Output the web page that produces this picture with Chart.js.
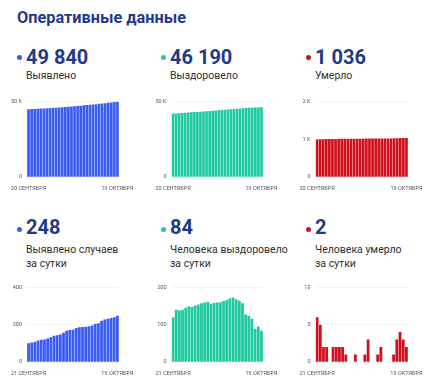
<!DOCTYPE html>
<html>
<head>
<meta charset="utf-8">
<script src="https://cdn.jsdelivr.net/npm/chart.js@4/dist/chart.umd.min.js"></script>
<style>
  body { margin: 0; width: 430px; height: 388px; background: #fff; font-family: Roboto, sans-serif; position: relative; overflow: hidden; }
  .abs { position: absolute; white-space: nowrap; }
  .title { left: 17px; top: 10px; font-size: 16.3px; line-height: 16px; font-weight: bold; color: #1f3b86; }
  .num { font-size: 20px; line-height: 20px; font-weight: bold; color: #1f3b86; }
  .lbl { font-size: 10.5px; line-height: 14px; color: #2e2e2e; }
  .dot { width: 5px; height: 5px; border-radius: 50%; }
  canvas { position: absolute; }
</style>
</head>
<body>
<div class="abs title">Оперативные данные</div>

<div class="abs dot" style="left:16.5px;top:55px;background:#3b5cf2"></div>
<div class="abs num" style="left:26px;top:46.5px">49 840</div>
<div class="abs lbl" style="left:26px;top:69px">Выявлено</div>

<div class="abs dot" style="left:161px;top:55px;background:#1fcaa2"></div>
<div class="abs num" style="left:170px;top:46.5px">46 190</div>
<div class="abs lbl" style="left:170px;top:69px">Выздоровело</div>

<div class="abs dot" style="left:305.5px;top:55px;background:#d0101d"></div>
<div class="abs num" style="left:315px;top:46.5px">1 036</div>
<div class="abs lbl" style="left:315px;top:69px">Умерло</div>

<div class="abs dot" style="left:16.5px;top:227px;background:#3b5cf2"></div>
<div class="abs num" style="left:26px;top:217px">248</div>
<div class="abs lbl" style="left:26px;top:242.5px">Выявлено случаев<br>за сутки</div>

<div class="abs dot" style="left:161px;top:227px;background:#1fcaa2"></div>
<div class="abs num" style="left:170px;top:217px">84</div>
<div class="abs lbl" style="left:170px;top:242.5px">Человека выздоровело<br>за сутки</div>

<div class="abs dot" style="left:305.5px;top:227px;background:#d0101d"></div>
<div class="abs num" style="left:315px;top:217px">2</div>
<div class="abs lbl" style="left:315px;top:242.5px">Человека умерло<br>за сутки</div>

<canvas id="c1" style="left:0;top:90px" width="145" height="101"></canvas>
<canvas id="c2" style="left:145px;top:90px" width="145" height="101"></canvas>
<canvas id="c3" style="left:290px;top:90px" width="140" height="101"></canvas>
<canvas id="c4" style="left:0;top:276px" width="145" height="100"></canvas>
<canvas id="c5" style="left:145px;top:276px" width="145" height="100"></canvas>
<canvas id="c6" style="left:290px;top:276px" width="140" height="100"></canvas>

<script>
// даты: накопленные итоги (20.09 - 19.10) и суточные значения (21.09 - 19.10)
const datesTotal = ['20 СЕНТЯБРЯ', '21 СЕНТЯБРЯ', '22 СЕНТЯБРЯ', '23 СЕНТЯБРЯ', '24 СЕНТЯБРЯ', '25 СЕНТЯБРЯ',
  '26 СЕНТЯБРЯ', '27 СЕНТЯБРЯ', '28 СЕНТЯБРЯ', '29 СЕНТЯБРЯ', '30 СЕНТЯБРЯ',
  '1 ОКТЯБРЯ', '2 ОКТЯБРЯ', '3 ОКТЯБРЯ', '4 ОКТЯБРЯ', '5 ОКТЯБРЯ', '6 ОКТЯБРЯ', '7 ОКТЯБРЯ',
  '8 ОКТЯБРЯ', '9 ОКТЯБРЯ', '10 ОКТЯБРЯ', '11 ОКТЯБРЯ', '12 ОКТЯБРЯ', '13 ОКТЯБРЯ', '14 ОКТЯБРЯ',
  '15 ОКТЯБРЯ', '16 ОКТЯБРЯ', '17 ОКТЯБРЯ', '18 ОКТЯБРЯ', '19 ОКТЯБРЯ'];
const datesDaily = ['21 СЕНТЯБРЯ', '22 СЕНТЯБРЯ', '23 СЕНТЯБРЯ', '24 СЕНТЯБРЯ', '25 СЕНТЯБРЯ',
  '26 СЕНТЯБРЯ', '27 СЕНТЯБРЯ', '28 СЕНТЯБРЯ', '29 СЕНТЯБРЯ', '30 СЕНТЯБРЯ',
  '1 ОКТЯБРЯ', '2 ОКТЯБРЯ', '3 ОКТЯБРЯ', '4 ОКТЯБРЯ', '5 ОКТЯБРЯ', '6 ОКТЯБРЯ', '7 ОКТЯБРЯ',
  '8 ОКТЯБРЯ', '9 ОКТЯБРЯ', '10 ОКТЯБРЯ', '11 ОКТЯБРЯ', '12 ОКТЯБРЯ', '13 ОКТЯБРЯ', '14 ОКТЯБРЯ',
  '15 ОКТЯБРЯ', '16 ОКТЯБРЯ', '17 ОКТЯБРЯ', '18 ОКТЯБРЯ', '19 ОКТЯБРЯ'];

const casesTotal = [44870, 44971, 45075, 45183, 45298, 45417, 45537, 45663, 45796, 45936,
  46079, 46226, 46382, 46550, 46722, 46895, 47077, 47263, 47450, 47639,
  47830, 48026, 48230, 48437, 48658, 48885, 49117, 49352, 49592, 49840];
const recoveredTotal = [41999, 42119, 42259, 42397, 42537, 42682, 42831, 42978, 43129, 43283,
  43440, 43599, 43760, 43916, 44074, 44233, 44393, 44556, 44722, 44893,
  45066, 45234, 45398, 45555, 45682, 45806, 45922, 46011, 46106, 46190];
const deathsTotal = [991, 997, 1002, 1004, 1006, 1006, 1008, 1010, 1012, 1014,
  1015, 1015, 1015, 1016, 1016, 1016, 1017, 1020, 1020, 1020,
  1021, 1023, 1023, 1023, 1023, 1024, 1027, 1031, 1034, 1036];

const casesDaily = [101, 104, 108, 115, 119, 120, 126, 133, 140, 143, 147, 156, 168, 172, 173,
  182, 186, 187, 189, 191, 196, 204, 207, 221, 227, 232, 235, 240, 248];
const recoveredDaily = [120, 140, 138, 140, 145, 149, 147, 151, 154, 157, 159, 161, 156, 158, 159,
  160, 163, 166, 171, 173, 168, 164, 157, 127, 124, 116, 89, 95, 84];
const deathsDaily = [6, 5, 2, 2, 0, 2, 2, 2, 2, 1, 0, 0, 1, 0, 0, 1, 3, 0, 0, 1, 2, 0, 0, 0, 1, 3, 4, 3, 2];

const BLUE = '#3b5cf2', TEAL = '#1fcaa2', RED = '#d0101d';
const tickFont = { family: 'Roboto', size: 5.5 };

function kFormat(v) {
  return v === 0 ? '0' : (v / 1000) + ' K';
}

// один мини-график: axisW - ширина оси Y, padR - отступ справа, padT - сверху
function makeChart(id, labels, values, color, max, step, fmt, axisW, padR, padT) {
  const ctx = document.getElementById(id).getContext('2d');
  return new Chart(ctx, {
    type: 'bar',
    data: {
      labels: labels,
      datasets: [{
        data: values,
        backgroundColor: color,
        borderWidth: 0,
        barPercentage: 0.88,
        categoryPercentage: 1
      }]
    },
    options: {
      responsive: false,
      animation: false,
      layout: { padding: { top: padT, right: padR, left: 0, bottom: 0 } },
      plugins: { legend: { display: false }, tooltip: { enabled: false } },
      scales: {
        x: {
          grid: { display: false, drawTicks: true, tickLength: 6, tickColor: 'transparent' },
          border: { display: false },
          ticks: {
            autoSkip: false, maxRotation: 0, padding: 2,
            font: tickFont, color: '#555',
            callback: function(value, index, ticks) {
              return (index === 0 || index === ticks.length - 1) ? this.getLabelForValue(value) : '';
            }
          },
          afterFit: s => { s.height = 14; }
        },
        y: {
          min: 0, max: max,
          grid: { color: '#ececec', lineWidth: 0.6, drawTicks: false },
          border: { display: false },
          ticks: { stepSize: step, padding: 5, font: tickFont, color: '#555', callback: fmt },
          afterFit: s => { s.width = axisW; }
        }
      }
    }
  });
}

makeChart('c1', datesTotal, casesTotal, BLUE, 50000, 50000, kFormat, 27, 26, 11.5);
makeChart('c2', datesTotal, recoveredTotal, TEAL, 50000, 50000, kFormat, 26.5, 27, 11.5);
makeChart('c3', datesTotal, deathsTotal, RED, 2000, 1000, kFormat, 25.5, 22, 11.5);
makeChart('c4', datesDaily, casesDaily, BLUE, 400, 200, v => v, 27, 26, 11.3);
makeChart('c5', datesDaily, recoveredDaily, TEAL, 200, 100, v => v, 26.5, 27, 11.3);
makeChart('c6', datesDaily, deathsDaily, RED, 10, 5, v => v, 25.5, 22, 11.3);
</script>
</body>
</html>
